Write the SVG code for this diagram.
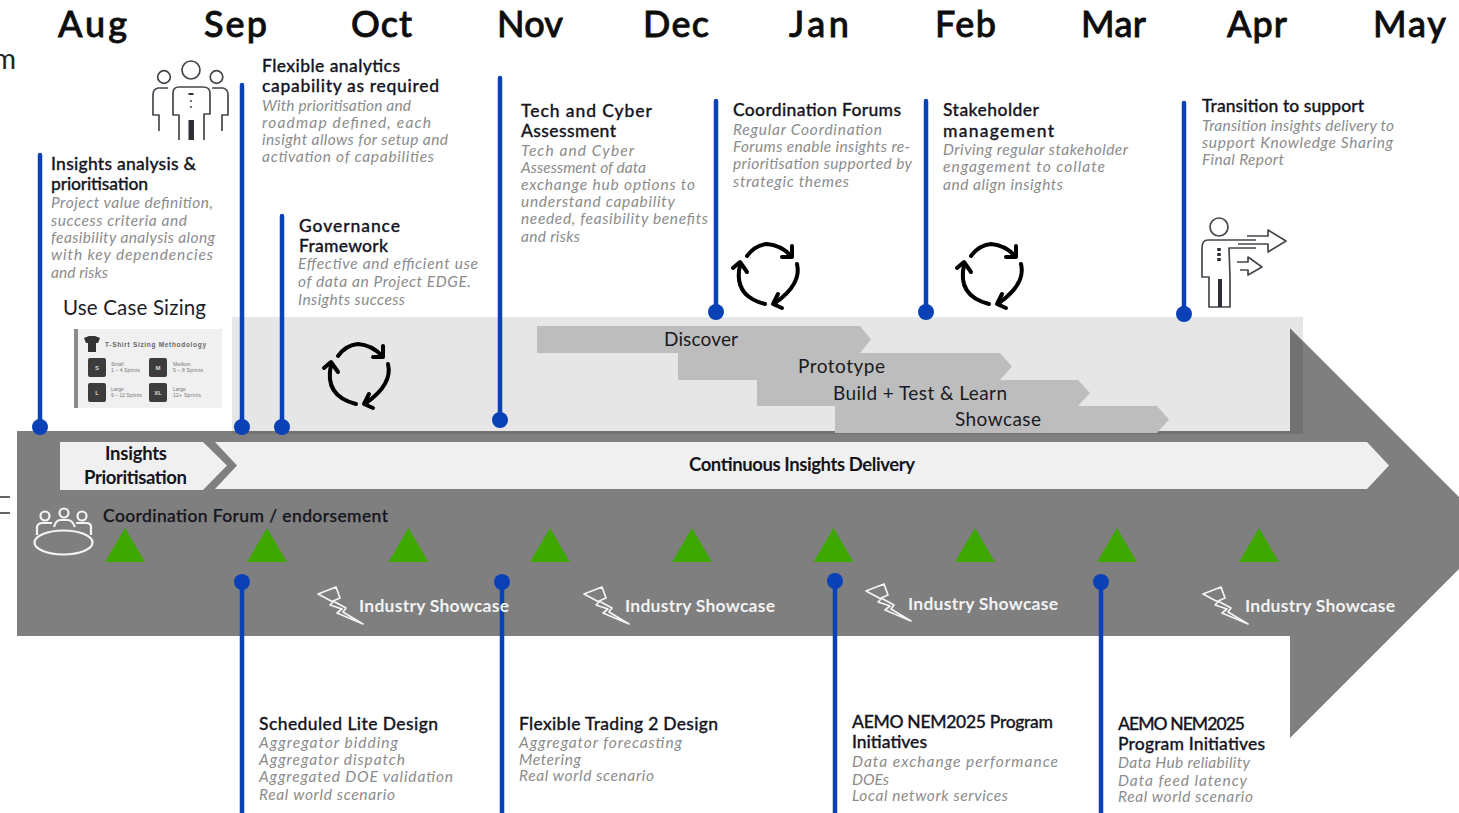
<svg xmlns="http://www.w3.org/2000/svg" width="1459" height="813" viewBox="0 0 1459 813">
<style>
text{font-family:"Lato","Noto Sans","Liberation Sans",sans-serif}
.mo{font-size:36px;font-weight:500;fill:#0d0d0d;stroke:#0d0d0d;stroke-width:.8}
.h{font-size:17.500px;font-weight:500;fill:#15151f;stroke:#15151f;stroke-width:.3}
.b{font-size:15.500px;font-style:italic;fill:#8c8c8c}
.c{font-size:19px;fill:#1a1a22}
.cb{font-size:18.500px;font-weight:700;fill:#14141c}
.sh{font-size:17.500px;font-weight:700;fill:#f2f2f2}
.bl{stroke:#0b41b7;stroke-width:4.500;fill:none;stroke-linecap:round}
.dot{fill:#0b41b7}
.tri{fill:#3fa800}
.ph{fill:#bdbdbd}
.chev{fill:#f0f0f0}
.ic{fill:none;stroke:#46464e;stroke-width:1.700;stroke-linejoin:round}
.cy{fill:none;stroke:#000;stroke-width:4;stroke-linecap:round;stroke-linejoin:round}
.ww{fill:none;stroke:#f4f4f4;stroke-width:2.200;stroke-linejoin:round}
.wt{fill:none;stroke:#f4f4f4;stroke-width:1.700;stroke-linejoin:round}
.tb{fill:#3c3c3c}
.tt{font-family:"Liberation Sans",sans-serif;font-size:5px;fill:#777}
.tw{font-family:"Liberation Sans",sans-serif;font-size:6px;font-weight:700;fill:#ddd;text-anchor:middle}
</style>
<defs>
<g id="cycle">
<path class="cy" d="M-20,-20Q-12,-31 0,-32Q14,-31 24,-20"/>
<path class="cy" d="M25,-30L25,-19L15,-19"/>
<path class="cy" d="M30,-12Q35,8 8,27"/>
<path class="cy" d="M11,18L6,28L15,32"/>
<path class="cy" d="M-2,28Q-34,20 -27,-11"/>
<path class="cy" d="M-34,-8L-27,-14L-20,-4"/>
</g>
<g id="bolt">
<path class="wt" d="M-22,-11L-4,-18L0,-7L-7,-4L6,3L3,7L23,19L-3,8L2,4L-10,0L-7,-3Z"/>
</g>
</defs>

<g id="left-cut">
<text x="-7" y="69" style="font-size:28px;fill:#222">m</text>
<path d="M0,497H10M0,513H10" stroke="#666" stroke-width="2" fill="none"/>
</g>

<g id="months">
<text class="mo" x="58" y="37" textLength="69">Aug</text>
<text class="mo" x="204" y="37" textLength="63">Sep</text>
<text class="mo" x="351" y="37" textLength="61">Oct</text>
<text class="mo" x="497" y="37" textLength="66">Nov</text>
<text class="mo" x="643" y="37" textLength="66">Dec</text>
<text class="mo" x="789" y="37" textLength="60">Jan</text>
<text class="mo" x="935" y="37" textLength="61">Feb</text>
<text class="mo" x="1081" y="37" textLength="65">Mar</text>
<text class="mo" x="1227" y="37" textLength="60">Apr</text>
<text class="mo" x="1373" y="37" textLength="73">May</text>
</g>

<g id="panel"><rect x="232" y="317" width="1071" height="114" fill="#e6e6e6"/></g>
<g id="timeline-arrow">
<polygon points="17,431 1290,431 1290,328 1495,533 1290,738 1290,636 17,636" fill="#7f7f7f"/>
<rect x="1290" y="328" width="13" height="106" fill="#000" opacity=".1"/>
<rect x="232" y="431" width="1058" height="3" fill="#000" opacity=".1"/>
<polygon points="1290,328 1303,341 1303,328" fill="#e6e6e6"/>
</g>

<g id="phase-discover"><polygon class="ph" points="537,326 860,326 871,339.500 860,353 537,353"/><text class="c" x="664" y="346" textLength="74">Discover</text></g>
<g id="phase-prototype"><polygon class="ph" points="678,353 1000,353 1012,366.500 1000,380 678,380"/><text class="c" x="798" y="373" textLength="87">Prototype</text></g>
<g id="phase-build"><polygon class="ph" points="757,380 1078,380 1090,393 1078,406 757,406"/><text class="c" x="833" y="400" textLength="174">Build + Test &amp; Learn</text></g>
<g id="phase-showcase"><polygon class="ph" points="835,406 1157,406 1169,419.500 1157,433 835,433"/><text class="c" x="955" y="426" textLength="86">Showcase</text></g>

<g id="chev-insights"><polygon class="chev" points="60,442 203,442 227,465.500 203,490 60,490"/>
<text class="cb" x="105" y="460" textLength="62">Insights</text><text class="cb" x="84" y="484" textLength="103">Prioritisation</text></g>
<g id="chev-continuous"><polygon class="chev" points="215,442 1367,442 1389,465.500 1367,489 215,489 237,465.500"/>
<text class="cb" x="689" y="471" textLength="226">Continuous Insights Delivery</text></g>

<g id="forum">
<ellipse class="ww" cx="63.500" cy="542.500" rx="29" ry="12"/>
<circle class="ww" cx="45" cy="516" r="4.500"/><circle class="ww" cx="64" cy="513" r="4.500"/><circle class="ww" cx="82" cy="516" r="4.500"/>
<path class="ww" d="M37,535V527Q38,523 42,523H52M54,527Q56,520 60,520H68Q72,520 75,527M76,523H86Q91,523 91,527V535"/>
<text x="103" y="522" textLength="285" style="font-size:17.500px;font-weight:500;fill:#15151c;stroke:#15151c;stroke-width:.25">Coordination Forum / endorsement</text>
</g>

<g id="milestones">
<polygon class="tri" points="125,528 145,562 105,562"/>
<polygon class="tri" points="267,528 287,562 247,562"/>
<polygon class="tri" points="408.500,528 428.500,562 388.500,562"/>
<polygon class="tri" points="550,528 570,562 530,562"/>
<polygon class="tri" points="692,528 712,562 672,562"/>
<polygon class="tri" points="833.500,528 853.500,562 813.500,562"/>
<polygon class="tri" points="975,528 995,562 955,562"/>
<polygon class="tri" points="1117,528 1137,562 1097,562"/>
<polygon class="tri" points="1259,528 1279,562 1239,562"/>
</g>

<g id="connectors">
<path class="bl" d="M40,155V427M242,85V427M282,216V427M500,78V420M716,101V312M926,101V312M1184,103V314M242,582V815M502,582V815M835,581V815M1101,582V815"/>
<circle class="dot" cx="40" cy="427" r="8"/><circle class="dot" cx="242" cy="427" r="8"/><circle class="dot" cx="282" cy="427" r="8"/>
<circle class="dot" cx="500" cy="420" r="8"/><circle class="dot" cx="716" cy="312" r="8"/><circle class="dot" cx="926" cy="312" r="8"/><circle class="dot" cx="1184" cy="314" r="8"/>
<circle class="dot" cx="242" cy="582" r="8"/><circle class="dot" cx="502" cy="582" r="8"/><circle class="dot" cx="835" cy="581" r="8"/><circle class="dot" cx="1101" cy="582" r="8"/>
</g>

<g id="showcases">
<use href="#bolt" x="340" y="605"/><text class="sh" x="359" y="612" textLength="150">Industry Showcase</text>
<use href="#bolt" x="606" y="605"/><text class="sh" x="625" y="612" textLength="150">Industry Showcase</text>
<use href="#bolt" x="888" y="602"/><text class="sh" x="908" y="610" textLength="150">Industry Showcase</text>
<use href="#bolt" x="1225" y="605"/><text class="sh" x="1245" y="612" textLength="150">Industry Showcase</text>
</g>

<g id="icon-people" class="ic">
<circle cx="191" cy="70" r="9"/><circle cx="164" cy="77" r="6.300"/><circle cx="216.500" cy="77" r="6.300"/>
<path d="M179,140V115H173V93Q173,87 179,87H203Q210,87 210,93V114H204V140"/>
<path d="M168,88H158Q153,89 153,95V115H159V131M212,88H223Q228,89 228,95V115H222V131"/>
<rect x="188.500" y="120" width="5.500" height="20" fill="#2e2e36" stroke="none"/>
<path d="M188.500,94H193.500" stroke-width="2" stroke="#2e2e36"/>
<path d="M191,100V102M191,106V108" stroke-width="2" stroke="#777"/>
</g>

<g id="node-insights">
<text class="h" x="51" y="170" textLength="145">Insights analysis &amp;</text>
<text class="h" x="51" y="190" textLength="97">prioritisation</text>
<text class="b" x="51" y="208" textLength="162">Project value definition,</text>
<text class="b" x="51" y="226" textLength="136">success criteria and</text>
<text class="b" x="51" y="243" textLength="164">feasibility analysis along</text>
<text class="b" x="51" y="260" textLength="162">with key dependencies</text>
<text class="b" x="51" y="278" textLength="57">and risks</text>
<text x="63" y="315" textLength="143" style="font-size:20.500px;fill:#1c1c24">Use Case Sizing</text>
</g>

<g id="sizing-card">
<rect x="74" y="329" width="148" height="79" fill="#f0f0f0"/><rect x="74" y="329" width="4" height="79" fill="#8a8a8a"/>
<path d="M84,338L89,336H95L100,338L98,343H96V352H88V343H86Z" fill="#333"/>
<text class="tt" x="105" y="346.500" textLength="101" style="font-weight:700;font-size:6.500px;fill:#666">T-Shirt Sizing Methodology</text>
<rect class="tb" x="88" y="358" width="18" height="19" rx="2"/><text class="tw" x="97" y="370">S</text>
<rect class="tb" x="149" y="358" width="18" height="19" rx="2"/><text class="tw" x="158" y="370">M</text>
<rect class="tb" x="88" y="383" width="18" height="19" rx="2"/><text class="tw" x="97" y="395">L</text>
<rect class="tb" x="149" y="383" width="18" height="19" rx="2"/><text class="tw" x="158" y="395">XL</text>
<text class="tt" x="111" y="366">Small</text><text class="tt" x="111" y="372" textLength="29">1 – 4 Sprints</text>
<text class="tt" x="173" y="366">Medium</text><text class="tt" x="173" y="372" textLength="30">5 – 8 Sprints</text>
<text class="tt" x="111" y="391">Large</text><text class="tt" x="111" y="397" textLength="31">9 – 12 Sprints</text>
<text class="tt" x="173" y="391">Large</text><text class="tt" x="173" y="397" textLength="28">12+ Sprints</text>
</g>

<g id="node-flexible">
<text class="h" x="262" y="72" textLength="138">Flexible analytics</text>
<text class="h" x="262" y="92" textLength="177">capability as required</text>
<text class="b" x="262" y="111" textLength="149">With prioritisation and</text>
<text class="b" x="262" y="128" textLength="169">roadmap defined, each</text>
<text class="b" x="262" y="145" textLength="186">insight allows for setup and</text>
<text class="b" x="262" y="162" textLength="172">activation of capabilities</text>
</g>

<g id="node-governance">
<text class="h" x="299" y="232" textLength="101">Governance</text>
<text class="h" x="299" y="252" textLength="89">Framework</text>
<text class="b" x="298" y="269" textLength="180">Effective and efficient use</text>
<text class="b" x="298" y="287" textLength="173">of data an Project EDGE.</text>
<text class="b" x="298" y="305" textLength="107">Insights success</text>
<use href="#cycle" x="358" y="376"/>
</g>

<g id="node-tech">
<text class="h" x="521" y="117" textLength="131">Tech and Cyber</text>
<text class="h" x="521" y="137" textLength="95">Assessment</text>
<text class="b" x="521" y="156" textLength="113">Tech and Cyber</text>
<text class="b" x="521" y="173" textLength="125">Assessment of data</text>
<text class="b" x="521" y="190" textLength="174">exchange hub options to</text>
<text class="b" x="521" y="207" textLength="154">understand capability</text>
<text class="b" x="521" y="224" textLength="187">needed, feasibility benefits</text>
<text class="b" x="521" y="242" textLength="59">and risks</text>
</g>

<g id="node-coordination">
<text class="h" x="733" y="116" textLength="168">Coordination Forums</text>
<text class="b" x="733" y="135" textLength="149">Regular Coordination</text>
<text class="b" x="733" y="152" textLength="177">Forums enable insights re-</text>
<text class="b" x="733" y="169" textLength="179">prioritisation supported by</text>
<text class="b" x="733" y="187" textLength="116">strategic themes</text>
<use href="#cycle" x="767" y="276"/>
</g>

<g id="node-stakeholder">
<text class="h" x="943" y="116" textLength="96">Stakeholder</text>
<text class="h" x="943" y="137" textLength="111">management</text>
<text class="b" x="943" y="155" textLength="185">Driving regular stakeholder</text>
<text class="b" x="943" y="172" textLength="162">engagement to collate</text>
<text class="b" x="943" y="190" textLength="120">and align insights</text>
<use href="#cycle" x="991" y="276"/>
</g>

<g id="node-transition">
<text class="h" x="1202" y="112" textLength="162">Transition to support</text>
<text class="b" x="1202" y="131" textLength="192">Transition insights delivery to</text>
<text class="b" x="1202" y="148" textLength="191">support Knowledge Sharing</text>
<text class="b" x="1202" y="165" textLength="82">Final Report</text>
<g class="ic">
<circle cx="1219" cy="227" r="9"/>
<path d="M1256,240H1208Q1202,240 1202,248V277H1209V307H1230V277L1229,248H1256"/>
<path d="M1247,236H1268V230L1286,241L1268,252V244H1238"/>
<path d="M1237,262H1248V257L1262,267L1248,275V270H1240"/>
<rect x="1218" y="279" width="4" height="28" fill="#2e2e36" stroke="none"/>
<path d="M1219,248V262" stroke-width="3.500" stroke-dasharray="3 2" stroke="#2e2e36"/>
</g>
</g>

<g id="node-lite">
<text class="h" x="259" y="730" textLength="179">Scheduled Lite Design</text>
<text class="b" x="259" y="748" textLength="139">Aggregator bidding</text>
<text class="b" x="259" y="765" textLength="146">Aggregator dispatch</text>
<text class="b" x="259" y="782" textLength="194">Aggregated DOE validation</text>
<text class="b" x="259" y="800" textLength="136">Real world scenario</text>
</g>

<g id="node-trading">
<text class="h" x="519" y="730" textLength="199">Flexible Trading 2 Design</text>
<text class="b" x="519" y="748" textLength="163">Aggregator forecasting</text>
<text class="b" x="519" y="765" textLength="62">Metering</text>
<text class="b" x="519" y="781" textLength="135">Real world scenario</text>
</g>

<g id="node-aemo-1">
<text class="h" x="852" y="728" textLength="201">AEMO NEM2025 Program</text>
<text class="h" x="852" y="748" textLength="75">Initiatives</text>
<text class="b" x="852" y="767" textLength="206">Data exchange performance</text>
<text class="b" x="852" y="785" textLength="37">DOEs</text>
<text class="b" x="852" y="801" textLength="156">Local network services</text>
</g>

<g id="node-aemo-2">
<text class="h" x="1118" y="730" textLength="127">AEMO NEM2025</text>
<text class="h" x="1118" y="750" textLength="147">Program Initiatives</text>
<text class="b" x="1118" y="768" textLength="132">Data Hub reliability</text>
<text class="b" x="1118" y="786" textLength="129">Data feed latency</text>
<text class="b" x="1118" y="802" textLength="135">Real world scenario</text>
</g>
</svg>
